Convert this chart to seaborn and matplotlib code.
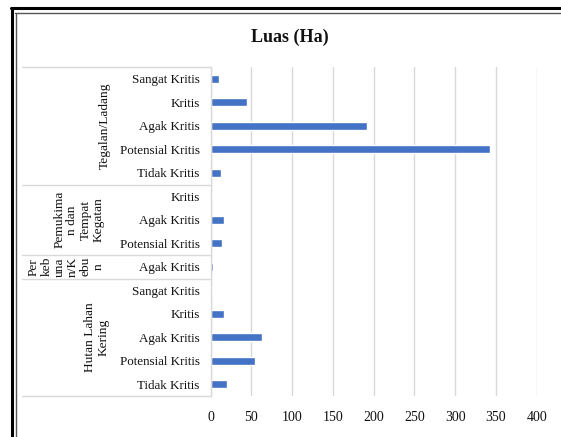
import matplotlib
matplotlib.use("Agg")
import matplotlib.pyplot as plt
import matplotlib.transforms as mtransforms
from matplotlib.lines import Line2D
import seaborn as sns
import pandas as pd

# ---- data (top to bottom as shown) ----
groups = ["Tegalan/Ladang", "Permukiman dan Tempat Kegatan", "Perkebunan/Kebun", "Hutan Lahan Kering"]
group_labels = ["Tegalan/Ladang", "Pemukima\nn dan\nTempat\nKegatan", "Per\nkeb\nuna\nn/K\nebu\nn", "Hutan Lahan\nKering"]
tegalan_cats = ["Sangat Kritis", "Kritis", "Agak Kritis", "Potensial Kritis", "Tidak Kritis"]
tegalan_vals = [10, 45, 192, 343, 13]
permukiman_cats = ["Kritis", "Agak Kritis", "Potensial Kritis"]
permukiman_vals = [2, 16, 14]
perkebunan_cats = ["Agak Kritis"]
perkebunan_vals = [3]
hutan_cats = ["Sangat Kritis", "Kritis", "Agak Kritis", "Potensial Kritis", "Tidak Kritis"]
hutan_vals = [2, 16, 63, 54, 20]
x_ticks = [0, 50, 100, 150, 200, 250, 300, 350, 400]
title = "Luas (Ha)"

cats_all = [tegalan_cats, permukiman_cats, perkebunan_cats, hutan_cats]
vals_all = [tegalan_vals, permukiman_vals, perkebunan_vals, hutan_vals]
rows = []
for g, cs, vs in zip(groups, cats_all, vals_all):
    for c, v in zip(cs, vs):
        rows.append({"key": g + "|" + c, "group": g, "cat": c, "value": v})
df = pd.DataFrame(rows)

sns.set_style("white")
plt.rcParams["font.family"] = ["Liberation Serif", "DejaVu Serif"]

W, H = 561, 437
fig = plt.figure(figsize=(W / 100, H / 100), dpi=100)
fig.patch.set_facecolor("white")

x0, x1 = 210.7, 536.7
y0, y1 = 67, 396
ax = fig.add_axes([x0 / W, 1 - y1 / H, (x1 - x0) / W, (y1 - y0) / H])

sns.barplot(data=df, y="key", x="value", order=list(df["key"]), color="#4472C4",
            width=0.36, orient="h", ax=ax, saturation=1)
ax.set_xlim(0, 400)
ax.set_ylim(len(df) - 0.5, -0.5)
ax.set_xticks(x_ticks)
ax.set_xticklabels([str(t) for t in x_ticks], fontsize=10, color="#111111")
ax.set_yticks(range(len(df)))
ax.set_yticklabels(list(df["cat"]), fontsize=9.4, color="#111111")
ax.tick_params(axis="both", length=0)
ax.tick_params(axis="x", pad=11)
ax.tick_params(axis="y", pad=8)
ax.set_xlabel("")
ax.set_ylabel("")
ax.grid(axis="x", color="#d9d9d9", linewidth=1)
ax.set_axisbelow(True)
for s in ["top", "right", "bottom"]:
    ax.spines[s].set_visible(False)
ax.spines["left"].set_color("#d9d9d9")
ax.spines["left"].set_linewidth(1)

# group separators and labels
blend = mtransforms.blended_transform_factory(fig.transFigure, ax.transData)
bounds = [-0.5]
pos = -0.5
for cs in cats_all:
    pos += len(cs)
    bounds.append(pos)
for b in bounds:
    fig.add_artist(Line2D([22 / W, x0 / W], [b, b], transform=blend, color="#d9d9d9", linewidth=1))

label_x = [105, 79, 66, 97]
for i, lab in enumerate(group_labels):
    yc = (bounds[i] + bounds[i + 1]) / 2
    fig.text(label_x[i] / W, yc, lab, transform=blend, rotation=90, ha="center", va="center",
             fontsize=9.6, color="#111111", linespacing=1.12, multialignment="center")

# title
fig.text(290 / W, 1 - 37 / H, title, ha="center", va="center", fontsize=13, fontweight="bold",
         color="#111111")

# double frame
fig.add_artist(Line2D([11 / W, 1], [1 - 8 / H, 1 - 8 / H], transform=fig.transFigure, color="black", linewidth=2.2))
fig.add_artist(Line2D([12 / W, 12 / W], [0, 1 - 8 / H], transform=fig.transFigure, color="black", linewidth=2.2))
fig.add_artist(Line2D([15 / W, 1], [1 - 13 / H, 1 - 13 / H], transform=fig.transFigure, color="#555555", linewidth=1))
fig.add_artist(Line2D([15.5 / W, 15.5 / W], [0, 1 - 13 / H], transform=fig.transFigure, color="#555555", linewidth=1))

fig.savefig("out.png", dpi=100)
